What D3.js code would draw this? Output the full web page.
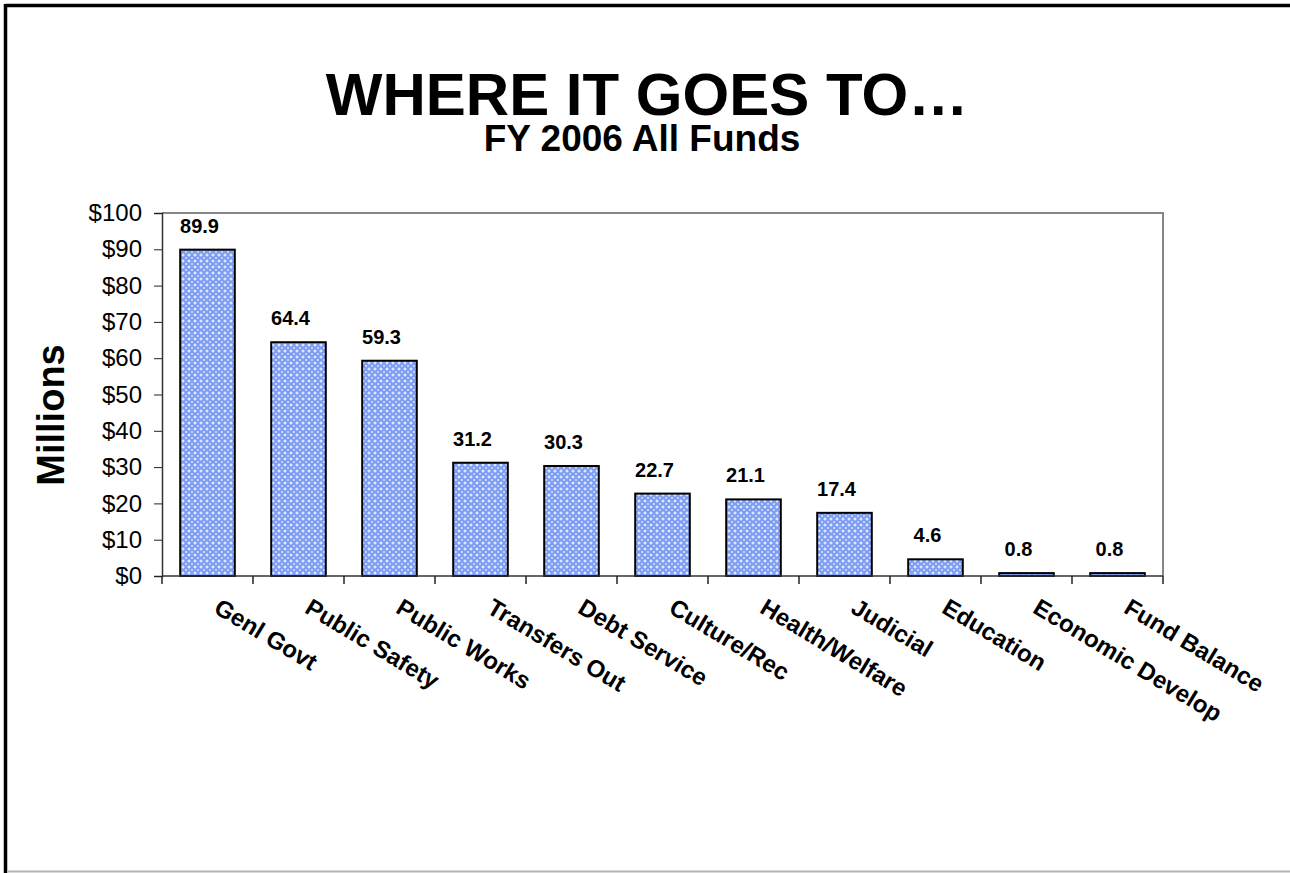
<!DOCTYPE html>
<html lang="en">
<head>
  <meta charset="UTF-8">
  <title>Where It Goes To</title>
  <script src="https://d3js.org/d3.v7.min.js"></script>
  <style>
    body { margin: 0; background: #fff; }
    svg { display: block; font-family: Arial, "Liberation Sans", sans-serif; }
  </style>
</head>
<body>
  <div id="chart"></div>
  <script>
    const categories = ["Genl Govt", "Public Safety", "Public Works", "Transfers Out", "Debt Service",
      "Culture/Rec", "Health/Welfare", "Judicial", "Education", "Economic Develop", "Fund Balance"];
    const values = [89.9, 64.4, 59.3, 31.2, 30.3, 22.7, 21.1, 17.4, 4.6, 0.8, 0.8];
    const yTicks = [0, 10, 20, 30, 40, 50, 60, 70, 80, 90, 100];

    const width = 1290, height = 873;
    const margin = { top: 213, right: 127, bottom: 297, left: 162 };

    const svg = d3.select("#chart").append("svg")
      .attr("width", width)
      .attr("height", height);

    // crosshatch fill like the old excel pattern
    const pat = svg.append("defs").append("pattern")
      .attr("id", "hatch")
      .attr("patternUnits", "userSpaceOnUse")
      .attr("width", 6).attr("height", 6);
    pat.append("rect").attr("width", 6).attr("height", 6).attr("fill", "#7d9cf3");
    pat.append("path").attr("d", "M3,1.5V4.5M1.5,3H4.5").attr("stroke", "#fff").attr("stroke-width", 1);
    pat.append("path").attr("d", "M0,0.5H0.5V0M5.5,0V0.5H6M0,5.5H0.5V6M5.5,6V5.5H6").attr("stroke", "#dfe7fc").attr("stroke-width", 1).attr("fill", "none");

    // page frame
    svg.append("line").attr("x1", 5.5).attr("x2", width).attr("y1", 5.5).attr("y2", 5.5)
      .attr("stroke", "#000").attr("stroke-width", 3.5);
    svg.append("line").attr("x1", 5.5).attr("x2", 5.5).attr("y1", 4).attr("y2", height)
      .attr("stroke", "#000").attr("stroke-width", 3.5);
    svg.append("line").attr("x1", 7).attr("x2", width).attr("y1", 871.5).attr("y2", 871.5)
      .attr("stroke", "#b4b4b4").attr("stroke-width", 2);

    svg.append("text")
      .attr("x", 647).attr("y", 115)
      .attr("text-anchor", "middle")
      .style("font-size", "60px").style("font-weight", "bold")
      .text("WHERE IT GOES TO\u2026");

    svg.append("text")
      .attr("x", 642).attr("y", 151)
      .attr("text-anchor", "middle")
      .style("font-size", "37px").style("font-weight", "bold")
      .text("FY 2006 All Funds");

    const x = d3.scaleBand()
      .domain(categories)
      .range([margin.left, width - margin.right])
      .paddingInner(0.4)
      .paddingOuter(0.2);

    const y = d3.scaleLinear()
      .domain([0, 100])
      .range([height - margin.bottom, margin.top]);

    const x0 = x.range()[0], x1 = x.range()[1];

    // plot frame (top and right in gray)
    svg.append("path")
      .attr("d", `M${x0},${y(100)}H${x1}V${y(0)}`)
      .attr("fill", "none").attr("stroke", "#868686").attr("stroke-width", 2);

    const yAxis = svg.append("g")
      .attr("transform", `translate(${x0},0)`)
      .call(d3.axisLeft(y).tickValues(yTicks).tickSize(8).tickPadding(12).tickFormat(d => "$" + d));
    yAxis.select(".domain").attr("stroke", "#333").attr("stroke-width", 1.5);
    yAxis.selectAll(".tick line").attr("stroke", "#222");
    yAxis.selectAll(".tick text").style("font-size", "24px").attr("fill", "#000");

    svg.append("text")
      .attr("transform", `translate(64,415) rotate(-90)`)
      .attr("text-anchor", "middle")
      .style("font-size", "38px").style("font-weight", "bold")
      .text("Millions");

    // bars
    svg.append("g").selectAll("rect")
      .data(values)
      .join("rect")
      .attr("x", (d, i) => x(categories[i]))
      .attr("y", d => y(d))
      .attr("width", x.bandwidth())
      .attr("height", d => y(0) - y(d))
      .attr("fill", "url(#hatch)")
      .attr("stroke", "#000")
      .attr("stroke-width", 2);

    svg.append("g").selectAll("text")
      .data(values)
      .join("text")
      .attr("x", (d, i) => x(categories[i]) + x.bandwidth() / 2 - 8)
      .attr("y", d => y(d) - 17)
      .attr("text-anchor", "middle")
      .style("font-size", "20px").style("font-weight", "bold")
      .text(d => d.toFixed(1));

    // x axis line and boundary ticks
    svg.append("line")
      .attr("x1", x0).attr("x2", x1)
      .attr("y1", y(0)).attr("y2", y(0))
      .attr("stroke", "#333").attr("stroke-width", 1.5);

    const bounds = d3.range(categories.length + 1).map(i => x0 + i * x.step());
    svg.append("g").selectAll("line")
      .data(bounds)
      .join("line")
      .attr("x1", d => d).attr("x2", d => d)
      .attr("y1", y(0)).attr("y2", y(0) + 8)
      .attr("stroke", "#222").attr("stroke-width", 1.5);

    svg.append("g").selectAll("text")
      .data(categories)
      .join("text")
      .attr("transform", d => `translate(${x(d) + x.bandwidth() / 2 + 5},${y(0) + 36}) rotate(31)`)
      .attr("text-anchor", "start")
      .style("font-size", "24px").style("font-weight", "bold")
      .text(d => d);
  </script>
</body>
</html>
